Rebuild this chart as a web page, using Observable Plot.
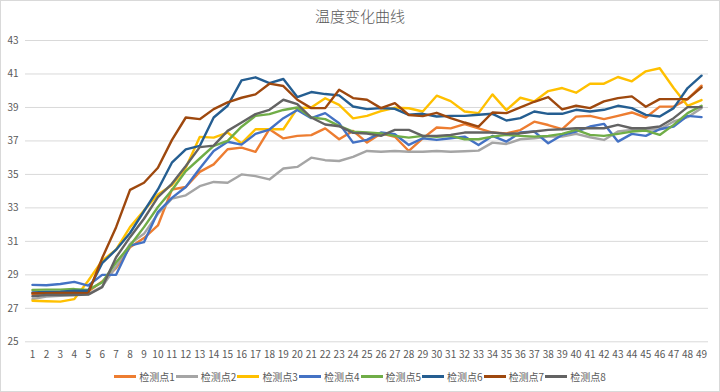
<!DOCTYPE html>
<html>
<head>
<meta charset="utf-8">
<script src="https://cdn.jsdelivr.net/npm/d3@7"></script>
<script src="https://cdn.jsdelivr.net/npm/@observablehq/plot@0.6"></script>
<style>
  html, body { margin: 0; padding: 0; background: #fff; }
  #chart { position: relative; width: 720px; height: 392px; overflow: hidden; background: #fff;
           font-family: "Noto Sans CJK SC", "Noto Sans", sans-serif; }
  #frame { position: absolute; left: 0; top: 0; width: 720px; height: 392px; box-sizing: border-box;
           border: 1px solid #d9d9d9; pointer-events: none; }
  #title { position: absolute; left: 0; right: 0; top: 5px; text-align: center; font-size: 15px;
           font-weight: 300; color: #595959; line-height: 22px; }
  #plot { position: absolute; left: 0; top: 30px; }
  #legend { position: absolute; left: 0; right: 0; top: 368px; height: 16px; display: flex;
            justify-content: center; align-items: center; gap: 1px; font-size: 10px; color: #595959; }
  .item { display: flex; align-items: center; gap: 3px; }
  .swatch { width: 22px; height: 3px; }
</style>
</head>
<body>
<div id="chart">
  <div id="title">温度变化曲线</div>
  <div id="plot"></div>
  <div id="legend"></div>
  <div id="frame"></div>
</div>
<script>
const xLabels = [1,2,3,4,5,6,7,8,9,10,11,12,13,14,15,16,17,18,19,20,21,22,23,24,25,26,27,28,29,30,31,32,33,34,35,36,37,38,39,40,41,42,43,44,45,46,47,48,49];
const yTicks = [25,27,29,31,33,35,37,39,41,43];
const seriesNames = ["检测点1","检测点2","检测点3","检测点4","检测点5","检测点6","检测点7","检测点8"];
const seriesColors = ["#ED7D31","#A5A5A5","#FFC000","#4472C4","#70AD47","#255E91","#9E480E","#636363"];

const s1 = [27.85,27.9,27.9,27.95,28.0, 28.6,29.4,30.65,31.2,31.95, 34.1,34.25,35.15,35.6,36.5,
            36.6,36.35,37.7,37.15,37.3, 37.35,37.75,37.1,37.6,36.9, 37.45,37.25,36.4,37.15,37.8,
            37.75,38.0,37.75,37.5,37.45, 37.65,38.15,37.95,37.7,38.45, 38.5,38.3,38.5,38.7,38.4,
            39.05,39.05,39.5,40.3];
const s2 = [27.55,27.7,27.75,27.8,27.85, 28.3,29.5,30.85,31.45,32.65, 33.55,33.75,34.3,34.55,34.5,
            35.0,34.9,34.7,35.35,35.45, 36.0,35.85,35.8,36.05,36.4, 36.35,36.4,36.35,36.35,36.4,
            36.35,36.38,36.42,36.9,36.82, 37.1,37.16,37.26,37.26,37.42, 37.22,37.06,37.56,37.66,37.66,
            37.7,38.16,38.42,38.96];
const s3 = [27.45,27.42,27.4,27.55,28.65, 29.85,30.5,31.85,32.85,33.8, 34.35,35.4,37.24,37.2,37.5,
            36.85,37.7,37.7,37.7,38.95, 39.0,39.55,39.15,38.35,38.5, 38.78,38.98,38.95,38.76,39.7,
            39.38,38.76,38.66,39.78,38.84, 39.58,39.36,39.98,40.16,39.88, 40.42,40.42,40.82,40.56,41.16,
            41.34,40.16,39.1,39.44];
const s4 = [28.4,28.38,28.45,28.58,28.36, 29.0,29.0,30.75,30.95,32.75, 33.6,34.25,35.35,36.4,36.95,
            36.78,37.42,37.68,38.36,38.85, 38.36,38.66,38.06,36.9,37.06, 37.5,37.4,36.76,37.16,37.06,
            37.16,37.26,36.76,37.3,36.96, 37.5,37.56,36.86,37.36,37.56, 37.86,38.02,36.96,37.42,37.3,
            37.7,37.86,38.5,38.42];
const s5 = [28.1,28.12,28.12,28.15,28.1, 28.55,29.75,30.75,31.85,33.05, 34.05,35.2,35.95,36.7,37.0,
            37.85,38.5,38.6,38.85,39.0, 38.4,38.3,37.9,37.55,37.5, 37.45,37.3,37.2,37.3,37.25,
            37.3,37.1,37.1,37.26,37.36, 37.3,37.26,37.3,37.42,37.66, 37.36,37.3,37.42,37.56,37.62,
            37.36,37.96,38.66,39.1];
const s6 = [27.95,27.98,28.0,28.05,28.05, 29.7,30.5,31.5,32.8,34.1, 35.7,36.5,36.7,38.4,39.1,
            40.62,40.8,40.45,40.7,39.62, 39.92,39.8,39.72,39.06,38.9, 38.96,38.92,38.56,38.62,38.46,
            38.5,38.5,38.56,38.62,38.22, 38.36,38.76,38.62,38.62,38.86, 38.76,38.86,39.1,38.96,38.56,
            38.46,38.96,40.16,40.9];
const s7 = [27.9,27.9,27.92,27.92,27.9, 30.0,31.85,34.08,34.5,35.4, 37.05,38.4,38.3,38.9,39.3,
            39.58,39.78,40.42,40.28,39.46, 38.96,38.96,40.06,39.56,39.46, 38.96,39.26,38.55,38.48,38.68,
            38.36,38.1,37.86,38.7,38.66, 39.0,39.34,39.62,38.88,39.1, 38.96,39.36,39.56,39.66,39.04,
            39.5,39.5,39.5,40.2];
const s8 = [27.72,27.8,27.8,27.8,27.82, 28.26,30.05,31.25,32.35,33.64, 34.44,35.5,36.63,36.72,37.6,
            38.1,38.6,38.86,39.46,39.2, 38.4,37.98,37.88,37.48,37.44, 37.3,37.66,37.66,37.3,37.3,
            37.36,37.5,37.5,37.5,37.42, 37.46,37.56,37.66,37.7,37.76, 37.76,37.76,37.96,37.76,37.76,
            37.86,38.36,39.02,39.02];

const seriesValues = [s1, s2, s3, s4, s5, s6, s7, s8];
const data = [];
seriesValues.forEach((vals, si) => {
  vals.forEach((v, i) => data.push({t: xLabels[i], v, s: seriesNames[si]}));
});

const chart = Plot.plot({
  width: 720,
  height: 335,
  marginLeft: 25,
  marginRight: 12,
  marginTop: 10,
  marginBottom: 23.7,
  style: {fontFamily: '"Noto Sans CJK SC", "Noto Sans", sans-serif', fontSize: "10px", color: "#595959", background: "transparent"},
  x: {domain: [0.5, 49.5], ticks: xLabels, tickFormat: d => String(d), tickSize: 0, tickPadding: 9, label: null},
  y: {domain: [25, 43], ticks: yTicks, tickSize: 0, tickPadding: 7, label: null},
  color: {domain: seriesNames, range: seriesColors},
  marks: [
    Plot.ruleY(yTicks, {stroke: "#d9d9d9", strokeWidth: 1}),
    Plot.line(data, {x: "t", y: "v", z: "s", stroke: "s", strokeWidth: 2.4, strokeLinejoin: "round", strokeLinecap: "round"})
  ]
});
document.getElementById("plot").appendChild(chart);

const legend = document.getElementById("legend");
seriesNames.forEach((n, i) => {
  const item = document.createElement("div");
  item.className = "item";
  const sw = document.createElement("span");
  sw.className = "swatch";
  sw.style.background = seriesColors[i];
  const tx = document.createElement("span");
  tx.textContent = n;
  item.appendChild(sw);
  item.appendChild(tx);
  legend.appendChild(item);
});
</script>
</body>
</html>
